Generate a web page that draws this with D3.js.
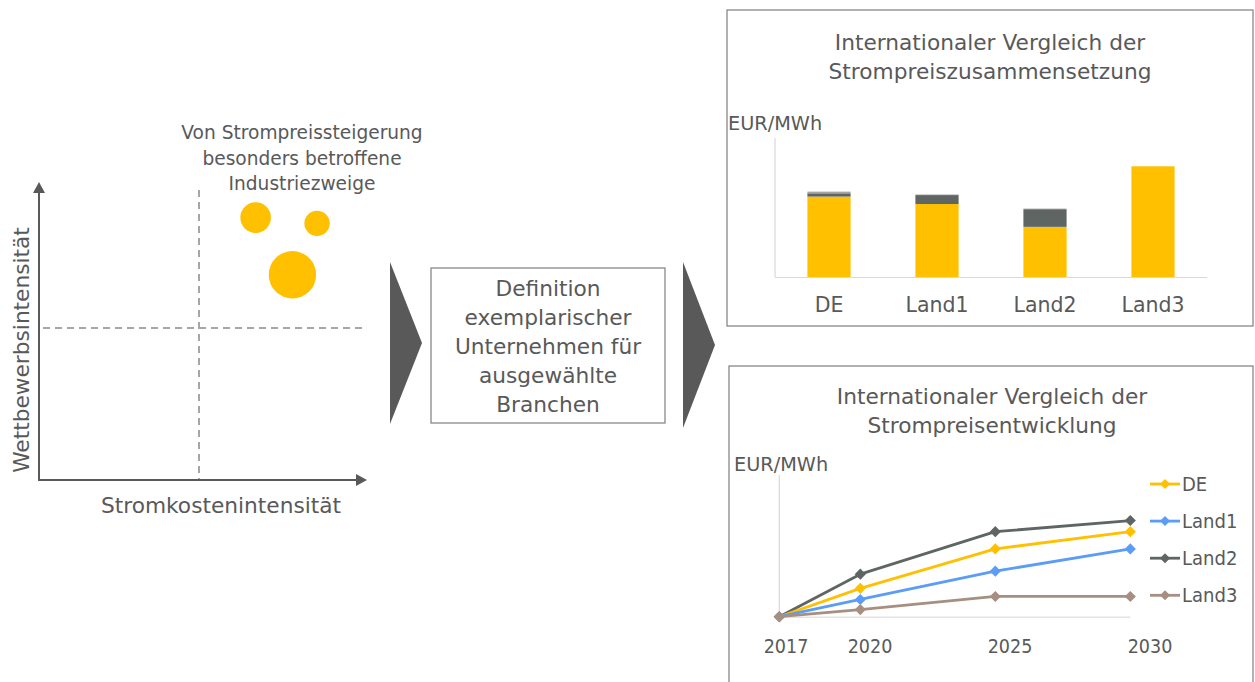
<!DOCTYPE html>
<html>
<head>
<meta charset="utf-8">
<script src="https://cdn.jsdelivr.net/npm/d3@7"></script>
<style>
  body { margin: 0; background: #fff; }
  svg text { font-family: "DejaVu Sans", sans-serif; fill: #595959; }
  svg text.cond { font-family: "DejaVu Sans Condensed", "DejaVu Sans", sans-serif; }
</style>
</head>
<body>
<div id="chart"></div>
<script>
// left panel: highlighted industries (x = Stromkostenintensität, y = Wettbewerbsintensität, r = size)
const industries = [
  { x: 6.77, y: 9.08, r: 15.3 },
  { x: 8.69, y: 8.88, r: 12.7 },
  { x: 7.92, y: 7.1, r: 23.7 }
];

// bar chart: price composition
const countries = ["DE", "Land1", "Land2", "Land3"];
const basePrice = [81, 73.5, 50.5, 111.5];
const levyPrice = [3.3, 9, 17.8, 0];
const otherPrice = [1.7, 0.6, 0.6, 0];
const barColors = ["#FFC000", "#5F6563", "#A5A5A5"];

// line chart: price development
const years = [2017, 2020, 2025, 2030];
const seriesNames = ["DE", "Land1", "Land2", "Land3"];
const seriesDE = [0, 28, 67, 84];
const seriesLand1 = [0, 17, 45, 67];
const seriesLand2 = [0, 42, 84, 95];
const seriesLand3 = [0, 7, 20, 20];
const seriesColors = ["#FFC000", "#5B9CF6", "#5F6563", "#A68F80"];

const W = 1255, H = 682;
const svg = d3.select("#chart").append("svg").attr("width", W).attr("height", H);

// ---------- left matrix ----------
const left = svg.append("g");
const mx = d3.scaleLinear().domain([0, 10]).range([39, 359]);
const my = d3.scaleLinear().domain([0, 10]).range([480, 191]);

// dashed quadrant lines
left.append("line").attr("x1", mx(5)).attr("x2", mx(5)).attr("y1", 190).attr("y2", 480)
  .attr("stroke", "#A6A6A6").attr("stroke-width", 2).attr("stroke-dasharray", "7,5");
left.append("line").attr("x1", 43).attr("x2", 362).attr("y1", my(5.26)).attr("y2", my(5.26))
  .attr("stroke", "#A6A6A6").attr("stroke-width", 2).attr("stroke-dasharray", "7,5");

// axes with arrow heads
left.append("line").attr("x1", 39).attr("x2", 39).attr("y1", 192).attr("y2", 481)
  .attr("stroke", "#595959").attr("stroke-width", 2);
left.append("path").attr("d", "M39,182 L33,193 L45,193 Z").attr("fill", "#595959");
left.append("line").attr("x1", 38).attr("x2", 357).attr("y1", 480).attr("y2", 480)
  .attr("stroke", "#595959").attr("stroke-width", 2);
left.append("path").attr("d", "M367,480 L356,474 L356,486 Z").attr("fill", "#595959");

left.selectAll("circle.ind")
  .data(industries)
  .join("circle")
  .attr("class", "ind")
  .attr("cx", d => mx(d.x))
  .attr("cy", d => my(d.y))
  .attr("r", d => d.r)
  .attr("fill", "#FFC000");

left.append("text").attr("text-anchor", "middle").style("font-size", "18.6px")
  .selectAll("tspan")
  .data(["Von Strompreissteigerung", "besonders betroffene", "Industriezweige"])
  .join("tspan")
  .attr("x", 302)
  .attr("y", (d, i) => 139 + i * 25.5)
  .text(d => d);

left.append("text").attr("x", 221).attr("y", 513).attr("text-anchor", "middle")
  .style("font-size", "21.7px").text("Stromkostenintensität");
left.append("text").attr("transform", "translate(29,350) rotate(-90)").attr("text-anchor", "middle")
  .style("font-size", "21.7px").text("Wettbewerbsintensität");

// ---------- chevrons and middle box ----------
svg.append("path").attr("d", "M390,262 L422,343 L390,424 Z").attr("fill", "#595959");
svg.append("path").attr("d", "M683,262 L715,345 L683,428 Z").attr("fill", "#595959");

svg.append("rect").attr("x", 431).attr("y", 268).attr("width", 234).attr("height", 155)
  .attr("fill", "#fff").attr("stroke", "#7F7F7F").attr("stroke-width", 1.2);
svg.append("text").attr("text-anchor", "middle").style("font-size", "21.7px")
  .selectAll("tspan")
  .data(["Definition", "exemplarischer", "Unternehmen für", "ausgewählte", "Branchen"])
  .join("tspan")
  .attr("x", 548)
  .attr("y", (d, i) => 296 + i * 29)
  .text(d => d);

// ---------- top right: stacked bar ----------
const barPanel = svg.append("g");
barPanel.append("rect").attr("x", 727).attr("y", 10).attr("width", 526).attr("height", 316)
  .attr("fill", "none").attr("stroke", "#7F7F7F").attr("stroke-width", 1.2);
barPanel.append("text").attr("text-anchor", "middle").style("font-size", "21.7px")
  .selectAll("tspan")
  .data(["Internationaler Vergleich der", "Strompreiszusammensetzung"])
  .join("tspan")
  .attr("x", 990)
  .attr("y", (d, i) => 50 + i * 29)
  .text(d => d);
barPanel.append("text").attr("x", 728).attr("y", 130).style("font-size", "19.3px").text("EUR/MWh");

const bx = d3.scaleBand().domain(countries).range([775, 1207]).paddingInner(0.6).paddingOuter(0.3);
const by = d3.scaleLinear().domain([0, 140]).range([277, 138]);

const stackData = countries.map((c, i) => ({ c, base: basePrice[i], levy: levyPrice[i], other: otherPrice[i] }));
const stacked = d3.stack().keys(["base", "levy", "other"])(stackData);

barPanel.selectAll("g.layer")
  .data(stacked)
  .join("g")
  .attr("class", "layer")
  .attr("fill", (d, i) => barColors[i])
  .selectAll("rect")
  .data(d => d)
  .join("rect")
  .attr("x", d => bx(d.data.c))
  .attr("width", bx.bandwidth())
  .attr("y", d => by(d[1]))
  .attr("height", d => by(d[0]) - by(d[1]));

barPanel.append("line").attr("x1", 775).attr("x2", 775).attr("y1", 138).attr("y2", 277)
  .attr("stroke", "#D9D9D9").attr("stroke-width", 1.2);
barPanel.append("line").attr("x1", 775).attr("x2", 1207).attr("y1", 277.5).attr("y2", 277.5)
  .attr("stroke", "#D9D9D9").attr("stroke-width", 1.2);

const bxAxis = barPanel.append("g").attr("transform", "translate(0,277)")
  .call(d3.axisBottom(bx).tickSize(0).tickPadding(20));
bxAxis.select(".domain").remove();
bxAxis.selectAll("text").style("font-size", "20.5px").attr("font-family", null).attr("fill", "#595959");

// ---------- bottom right: lines ----------
const linePanel = svg.append("g");
linePanel.append("rect").attr("x", 729).attr("y", 366).attr("width", 524).attr("height", 330)
  .attr("fill", "none").attr("stroke", "#7F7F7F").attr("stroke-width", 1.2);
linePanel.append("text").attr("text-anchor", "middle").style("font-size", "21.7px")
  .selectAll("tspan")
  .data(["Internationaler Vergleich der", "Strompreisentwicklung"])
  .join("tspan")
  .attr("x", 992)
  .attr("y", (d, i) => 404 + i * 29)
  .text(d => d);
linePanel.append("text").attr("x", 734).attr("y", 471).style("font-size", "19.3px").text("EUR/MWh");

const lx = d3.scaleLinear().domain([2017, 2030]).range([779.3, 1130.3]);
const ly = d3.scaleLinear().domain([0, 140]).range([616.7, 475]);
// excel style labels sit slightly to the right of the points
const labelX = d3.scaleLinear().domain([2017, 2030]).range([786, 1150]);

linePanel.append("line").attr("x1", lx(2017)).attr("x2", lx(2017)).attr("y1", 475).attr("y2", 617)
  .attr("stroke", "#D9D9D9").attr("stroke-width", 1.2);
linePanel.append("line").attr("x1", lx(2017)).attr("x2", lx(2030)).attr("y1", 617.3).attr("y2", 617.3)
  .attr("stroke", "#E3E3E3").attr("stroke-width", 1.5);

linePanel.selectAll("text.year")
  .data(years)
  .join("text")
  .attr("class", "year cond")
  .attr("x", d => labelX(d))
  .attr("y", 653)
  .attr("text-anchor", "middle")
  .style("font-size", "19.5px")
  .text(d => d);

const seriesVals = [seriesDE, seriesLand1, seriesLand2, seriesLand3];
const series = seriesNames.map((name, i) => ({ name, color: seriesColors[i], values: seriesVals[i] }));
const line = d3.line().x((d, i) => lx(years[i])).y(d => ly(d));

// draw from back to front so Land3 sits on top at the origin
const drawOrder = [2, 0, 1, 3].map(i => series[i]);
const sg = linePanel.selectAll("g.series")
  .data(drawOrder)
  .join("g")
  .attr("class", "series");
sg.append("path")
  .attr("d", d => line(d.values))
  .attr("fill", "none")
  .attr("stroke", d => d.color)
  .attr("stroke-width", 2.8)
  .attr("stroke-linejoin", "round");
sg.selectAll("path.pt")
  .data(d => d.values.map((v, i) => ({ v, i, color: d.color })))
  .join("path")
  .attr("class", "pt")
  .attr("transform", d => `translate(${lx(years[d.i])},${ly(d.v)}) rotate(45)`)
  .attr("d", d3.symbol().type(d3.symbolSquare).size(62))
  .attr("fill", d => d.color);

// legend
const lg = linePanel.selectAll("g.leg")
  .data(series)
  .join("g")
  .attr("class", "leg")
  .attr("transform", (d, i) => `translate(1150,${484 + i * 37.1})`);
lg.append("line").attr("x1", 0).attr("x2", 30).attr("stroke", d => d.color).attr("stroke-width", 2.8);
lg.append("path").attr("transform", "translate(15,0) rotate(45)")
  .attr("d", d3.symbol().type(d3.symbolSquare).size(50)).attr("fill", d => d.color);
lg.append("text").attr("class", "cond").attr("x", 32).attr("y", 7).style("font-size", "20px").text(d => d.name);
</script>
</body>
</html>
